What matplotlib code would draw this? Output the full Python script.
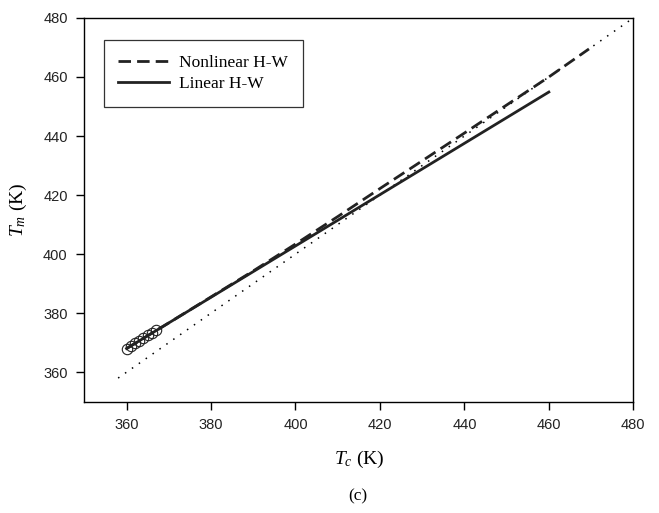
import matplotlib
matplotlib.use('Agg')
import matplotlib.pyplot as plt
import numpy as np

plt.rcParams['mathtext.fontset'] = 'custom'
plt.rcParams['mathtext.rm'] = 'Liberation Serif'
plt.rcParams['mathtext.it'] = 'Liberation Serif:italic'

# Daten
tc_data = [360, 361, 362, 363, 364, 365, 366, 367]
tm_data = [368.0, 368.9, 369.8, 370.7, 371.6, 372.5, 373.4, 374.3]

tc_nonlin = [360, 370, 380, 390, 400, 410, 420, 430, 440, 450, 460, 469.5]
tm_nonlin = [368.0, 376.7, 385.5, 394.3, 403.4, 412.7, 422.2, 431.6, 441.0, 450.5, 460.0, 469.5]

tc_lin = [360, 460]
tm_lin = [368.0, 454.9]

diag = [358, 480]

ticks = [360, 380, 400, 420, 440, 460, 480]

fig = plt.figure(figsize=(6.59, 5.13), dpi=100)
ax = fig.add_axes([0.128, 0.217, 0.833, 0.748])

ax.plot(diag, diag, color='black', lw=1.1, linestyle=(0, (1, 4.5)))
ax.plot(tc_nonlin, tm_nonlin, color='#222222', lw=2, linestyle=(0, (4.5, 2.2)), label='Nonlinear H-W')
ax.plot(tc_lin, tm_lin, color='#222222', lw=2, label='Linear H-W')
ax.plot(tc_data, tm_data, 'o', mfc='none', mec='#222222', mew=0.8, ms=7.5)

ax.set_xlim(350, 480)
ax.set_ylim(350, 480)
ax.set_xticks(ticks)
ax.set_yticks(ticks)
ax.tick_params(direction='out', length=6, width=1, labelsize=10.5, pad=6)
for lab in ax.get_xticklabels() + ax.get_yticklabels():
    lab.set_family('Liberation Sans')
    lab.set_color('#222222')
for s in ax.spines.values():
    s.set_linewidth(1)

ax.set_xlabel(r'$T_c$ (K)', family='Liberation Serif', fontsize=14, labelpad=12)
ax.set_ylabel(r'$T_m$ (K)', family='Liberation Serif', fontsize=14, labelpad=10)

leg = ax.legend(loc='upper left', bbox_to_anchor=(0.035, 0.943), borderaxespad=0,
                prop={'family': 'Liberation Serif', 'size': 12.5},
                fancybox=False, edgecolor='#333333', framealpha=1, handlelength=2.9, borderpad=0.85,
                labelspacing=0.3, handletextpad=0.6)
leg.get_frame().set_linewidth(0.9)

fig.text(0.543, 0.025, '(c)', family='Liberation Serif', fontsize=12.5, ha='center')

fig.savefig('out.png', dpi=100)
